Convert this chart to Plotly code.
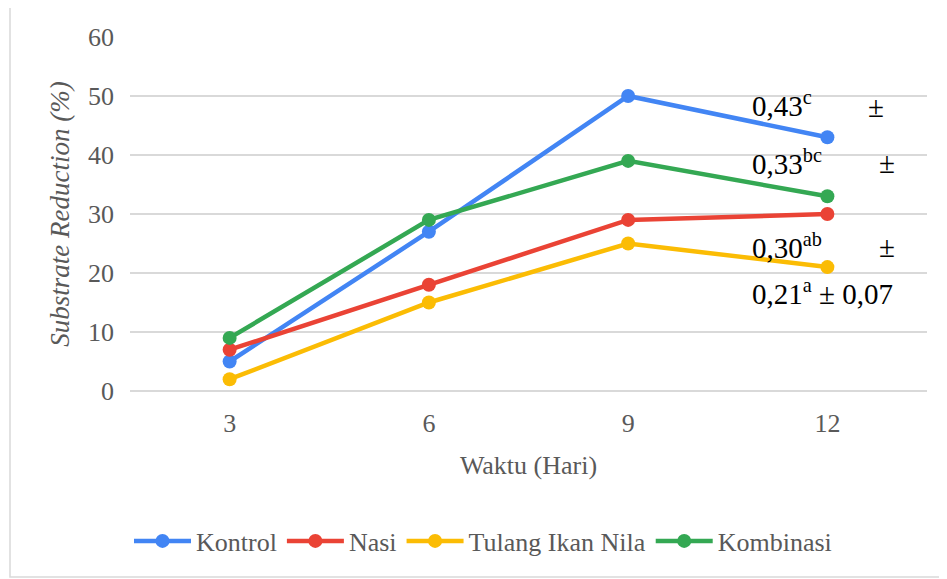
import plotly.graph_objects as go

days = ["3", "6", "9", "12"]
kontrol = [5, 27, 50, 43]
nasi = [7, 18, 29, 30]
tulang = [2, 15, 25, 21]
kombinasi = [9, 29, 39, 33]

series = [
    ("Kontrol", kontrol, "#4285F4"),
    ("Nasi", nasi, "#EA4335"),
    ("Tulang Ikan Nila", tulang, "#FBBC04"),
    ("Kombinasi", kombinasi, "#34A853"),
]

y_ticks = [0, 10, 20, 30, 40, 50, 60]

FF = "Liberation Serif"
gray = "#595959"

fig = go.Figure()
for name, vals, color in series:
    fig.add_trace(go.Scatter(
        x=days, y=vals, name=name, mode="lines+markers",
        line=dict(color=color, width=4.5),
        marker=dict(color=color, size=14),
    ))

OFF = 8  # page body margin


def sup(s):
    return f"<sup>{s}</sup>"


notes = [
    ("0,43" + sup("c"), 750, 104),
    ("±", 866, 107),
    ("0,33" + sup("bc"), 750, 162),
    ("±", 877, 163),
    ("0,30" + sup("ab"), 750, 246),
    ("±", 877, 247),
    ("0,21" + sup("a") + " ± 0,07", 750, 292),
]

W, H = 947 - OFF, 579 - OFF
L, T = 130 - OFF, 37 - OFF
R = W - (927 - OFF)
B = H - (391 - OFF)
pw, ph = W - L - R, H - T - B


def px2x(px):
    return (px - OFF - L) / pw


def py2y(py):
    return (H - B - (py - OFF)) / ph


annotations = []
for text, px, py in notes:
    annotations.append(dict(
        text=text, xref="paper", yref="paper",
        x=px2x(px), y=py2y(py),
        xanchor="left", yanchor="middle", showarrow=False,
        font=dict(family=FF, size=29, color="black"),
    ))

fig.update_layout(
    width=W, height=H,
    margin=dict(l=L, r=R, t=T, b=B, autoexpand=False),
    paper_bgcolor="white", plot_bgcolor="white",
    font=dict(family=FF, size=26, color=gray),
    xaxis=dict(
        type="category", range=[-0.5, 3.5], showgrid=False, showline=False, ticks="",
        automargin=False, ticklabelstandoff=14,
        title=dict(text="Waktu (Hari)", font=dict(family=FF, size=26, color=gray), standoff=18),
        tickfont=dict(family=FF, size=26, color=gray),
    ),
    yaxis=dict(
        range=[0, 60], tickvals=y_ticks, showgrid=True, automargin=False,
        gridcolor="#d9d9d9", gridwidth=2, zeroline=True,
        zerolinecolor="#d9d9d9", zerolinewidth=2, showline=False,
        ticks="", ticklen=0, ticklabelstandoff=15,
        title=dict(text="<i>Substrate Reduction (%)</i>", font=dict(family=FF, size=27, color=gray), standoff=10),
        tickfont=dict(family=FF, size=26, color=gray),
    ),
    legend=dict(
        orientation="h", x=px2x(483), xanchor="center",
        y=py2y(541), yanchor="middle",
        font=dict(family=FF, size=26, color=gray), itemwidth=57,
    ),
    annotations=annotations,
    shapes=[dict(
        type="rect", xref="paper", yref="paper",
        x0=px2x(10), x1=px2x(960),
        y0=py2y(577), y1=py2y(7),
        line=dict(color="#d9d9d9", width=1.5), layer="below",
    )],
)

fig.write_html("out.html")
